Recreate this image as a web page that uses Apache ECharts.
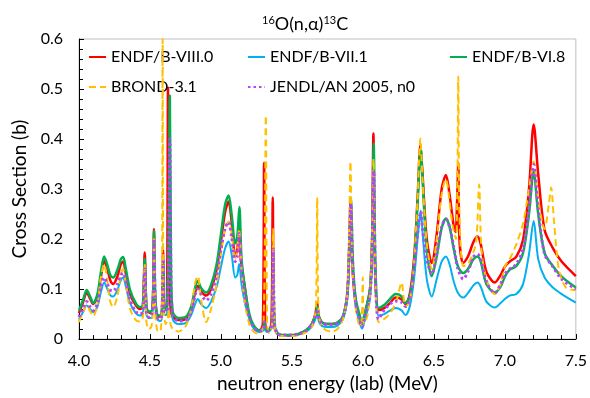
<!DOCTYPE html>
<html>
<head>
<meta charset="utf-8">
<script src="https://cdn.jsdelivr.net/npm/echarts@6/dist/echarts.min.js"></script>
<style>html,body{margin:0;padding:0;background:#fff}#c{width:590px;height:398px}</style>
</head>
<body>
<div id="c"></div>
<script>
// ---- data (energy in MeV, cross section in b) ----
const xTicks = [4.0, 4.5, 5.0, 5.5, 6.0, 6.5, 7.0, 7.5];
const yTicks = [0, 0.1, 0.2, 0.3, 0.4, 0.5, 0.6];

const endf80E = [4.0,4.03,4.054,4.08,4.10,4.13,4.155,4.177,4.20,4.22,4.241,4.27,4.295,4.311,4.33,4.36,4.40,4.43,4.45,4.463,4.475,4.49,4.51,4.522,4.528,4.535,4.55,4.575,4.585,4.592,4.600,4.615,4.622,4.627,4.633,4.645,4.66,4.70,4.75,4.79,4.82,4.837,4.86,4.896,4.93,4.97,5.00,5.03,5.054,5.075,5.10,5.115,5.128,5.14,5.17,5.20,5.23,5.27,5.295,5.304,5.312,5.33,5.355,5.365,5.375,5.40,5.45,5.50,5.55,5.60,5.64,5.665,5.677,5.69,5.72,5.78,5.82,5.86,5.89,5.905,5.913,5.925,5.95,5.98,5.995,6.01,6.05,6.065,6.074,6.085,6.11,6.15,6.19,6.23,6.27,6.30,6.33,6.36,6.385,6.405,6.42,6.45,6.485,6.52,6.555,6.585,6.61,6.64,6.653,6.664,6.672,6.68,6.707,6.74,6.78,6.807,6.83,6.87,6.929,6.97,7.00,7.034,7.081,7.128,7.17,7.203,7.235,7.28,7.338,7.40,7.5];
const endf80Y = [0.052,0.075,0.093,0.080,0.070,0.085,0.125,0.157,0.140,0.118,0.110,0.125,0.150,0.155,0.130,0.090,0.068,0.060,0.066,0.173,0.062,0.054,0.052,0.090,0.220,0.090,0.048,0.045,0.060,0.178,0.060,0.058,0.150,0.503,0.200,0.060,0.045,0.038,0.040,0.060,0.095,0.106,0.095,0.087,0.100,0.140,0.195,0.255,0.275,0.235,0.165,0.180,0.230,0.160,0.100,0.045,0.025,0.016,0.030,0.352,0.030,0.015,0.030,0.283,0.030,0.010,0.007,0.007,0.010,0.016,0.030,0.050,0.073,0.045,0.032,0.030,0.032,0.045,0.090,0.200,0.280,0.150,0.070,0.040,0.030,0.045,0.100,0.200,0.411,0.150,0.058,0.062,0.072,0.083,0.080,0.070,0.090,0.160,0.280,0.388,0.330,0.200,0.152,0.210,0.300,0.328,0.290,0.225,0.214,0.280,0.352,0.200,0.152,0.165,0.195,0.205,0.190,0.135,0.113,0.128,0.145,0.155,0.165,0.198,0.300,0.429,0.330,0.218,0.182,0.155,0.126];

const endf71E = [4.0,4.03,4.054,4.08,4.10,4.13,4.155,4.177,4.20,4.22,4.241,4.27,4.295,4.311,4.33,4.36,4.40,4.43,4.45,4.463,4.475,4.49,4.51,4.522,4.529,4.537,4.55,4.575,4.585,4.594,4.602,4.62,4.632,4.640,4.648,4.66,4.70,4.75,4.79,4.82,4.837,4.86,4.896,4.93,4.97,5.00,5.03,5.054,5.075,5.10,5.115,5.128,5.145,5.17,5.20,5.23,5.27,5.30,5.305,5.312,5.33,5.36,5.368,5.378,5.40,5.45,5.50,5.55,5.60,5.64,5.665,5.680,5.69,5.72,5.78,5.82,5.86,5.89,5.905,5.915,5.93,5.95,5.98,5.995,6.01,6.05,6.065,6.076,6.088,6.11,6.15,6.19,6.23,6.27,6.30,6.33,6.36,6.385,6.407,6.42,6.45,6.485,6.52,6.555,6.585,6.61,6.64,6.67,6.707,6.74,6.78,6.807,6.83,6.87,6.929,6.97,7.00,7.034,7.081,7.128,7.17,7.203,7.235,7.28,7.338,7.40,7.5];
const endf71Y = [0.039,0.055,0.067,0.060,0.054,0.065,0.095,0.113,0.100,0.088,0.085,0.098,0.118,0.123,0.105,0.072,0.052,0.047,0.050,0.110,0.050,0.042,0.042,0.070,0.190,0.070,0.040,0.036,0.048,0.130,0.048,0.050,0.180,0.420,0.130,0.040,0.030,0.032,0.048,0.072,0.080,0.070,0.062,0.075,0.105,0.145,0.182,0.195,0.170,0.123,0.128,0.150,0.110,0.070,0.040,0.022,0.014,0.018,0.030,0.018,0.014,0.025,0.150,0.025,0.010,0.007,0.007,0.010,0.015,0.025,0.040,0.052,0.035,0.025,0.024,0.027,0.040,0.080,0.170,0.250,0.130,0.065,0.030,0.021,0.035,0.080,0.170,0.300,0.120,0.047,0.050,0.057,0.062,0.058,0.048,0.065,0.120,0.200,0.257,0.215,0.120,0.085,0.120,0.155,0.165,0.150,0.115,0.092,0.083,0.092,0.108,0.113,0.105,0.075,0.063,0.072,0.080,0.087,0.090,0.110,0.170,0.236,0.160,0.123,0.103,0.090,0.073];

const endf68E = [4.0,4.03,4.054,4.08,4.10,4.13,4.155,4.177,4.20,4.22,4.241,4.27,4.295,4.311,4.33,4.36,4.40,4.43,4.45,4.463,4.475,4.49,4.51,4.522,4.529,4.537,4.55,4.575,4.585,4.594,4.602,4.62,4.632,4.640,4.648,4.66,4.70,4.75,4.79,4.82,4.837,4.86,4.896,4.93,4.97,5.00,5.03,5.054,5.075,5.10,5.115,5.130,5.145,5.17,5.20,5.23,5.27,5.30,5.305,5.312,5.33,5.36,5.368,5.378,5.40,5.45,5.50,5.55,5.60,5.64,5.665,5.680,5.69,5.72,5.78,5.82,5.86,5.89,5.905,5.915,5.93,5.95,5.98,5.995,6.01,6.05,6.065,6.076,6.088,6.11,6.15,6.19,6.23,6.27,6.30,6.33,6.36,6.385,6.407,6.42,6.45,6.485,6.52,6.555,6.585,6.61,6.64,6.67,6.707,6.74,6.78,6.807,6.83,6.87,6.929,6.97,7.00,7.034,7.081,7.128,7.17,7.203,7.235,7.28,7.338,7.40,7.5];
const endf68Y = [0.057,0.080,0.098,0.084,0.072,0.090,0.135,0.165,0.148,0.128,0.123,0.138,0.160,0.164,0.140,0.098,0.072,0.064,0.068,0.160,0.065,0.055,0.055,0.090,0.217,0.090,0.050,0.047,0.060,0.150,0.060,0.065,0.200,0.487,0.150,0.055,0.042,0.044,0.065,0.105,0.116,0.102,0.093,0.108,0.150,0.210,0.270,0.287,0.250,0.191,0.205,0.264,0.160,0.100,0.050,0.028,0.018,0.022,0.035,0.022,0.018,0.030,0.180,0.030,0.012,0.008,0.008,0.011,0.018,0.030,0.048,0.065,0.045,0.032,0.030,0.033,0.046,0.090,0.190,0.283,0.150,0.080,0.045,0.032,0.048,0.100,0.200,0.391,0.150,0.062,0.068,0.080,0.090,0.086,0.072,0.085,0.150,0.270,0.382,0.320,0.180,0.126,0.165,0.222,0.241,0.225,0.180,0.145,0.132,0.140,0.160,0.165,0.155,0.110,0.093,0.105,0.125,0.139,0.146,0.172,0.250,0.336,0.250,0.172,0.146,0.125,0.103];

const brondE = [4.0,4.03,4.054,4.08,4.10,4.13,4.155,4.177,4.20,4.22,4.241,4.27,4.295,4.311,4.33,4.36,4.40,4.43,4.45,4.462,4.475,4.49,4.51,4.522,4.529,4.537,4.55,4.572,4.584,4.589,4.595,4.61,4.625,4.632,4.645,4.66,4.70,4.75,4.79,4.82,4.837,4.86,4.896,4.93,4.97,5.00,5.03,5.054,5.075,5.10,5.115,5.128,5.145,5.17,5.20,5.23,5.27,5.30,5.316,5.325,5.34,5.36,5.368,5.378,5.40,5.45,5.50,5.55,5.60,5.64,5.668,5.678,5.688,5.72,5.78,5.82,5.86,5.89,5.905,5.912,5.925,5.95,5.98,5.992,5.999,6.007,6.03,6.05,6.065,6.075,6.088,6.11,6.15,6.20,6.24,6.272,6.30,6.33,6.36,6.385,6.405,6.42,6.45,6.485,6.52,6.555,6.585,6.60,6.63,6.655,6.665,6.672,6.68,6.707,6.74,6.78,6.800,6.819,6.835,6.87,6.929,6.97,7.00,7.034,7.081,7.128,7.17,7.203,7.235,7.28,7.31,7.326,7.345,7.38,7.431,7.5];
const brondY = [0.034,0.055,0.068,0.055,0.046,0.070,0.125,0.150,0.115,0.075,0.064,0.085,0.130,0.140,0.110,0.060,0.038,0.035,0.045,0.150,0.035,0.020,0.025,0.070,0.200,0.060,0.018,0.015,0.080,0.600,0.080,0.030,0.040,0.060,0.030,0.020,0.015,0.025,0.060,0.115,0.126,0.080,0.034,0.060,0.110,0.170,0.220,0.235,0.210,0.160,0.180,0.220,0.140,0.070,0.030,0.015,0.010,0.030,0.447,0.030,0.012,0.030,0.220,0.025,0.008,0.006,0.006,0.008,0.014,0.025,0.060,0.283,0.050,0.022,0.015,0.020,0.040,0.090,0.250,0.355,0.150,0.060,0.025,0.040,0.123,0.030,0.045,0.090,0.200,0.360,0.120,0.034,0.040,0.055,0.080,0.113,0.065,0.075,0.150,0.280,0.401,0.320,0.190,0.140,0.200,0.290,0.320,0.300,0.230,0.200,0.300,0.525,0.250,0.146,0.150,0.175,0.200,0.309,0.180,0.120,0.090,0.110,0.145,0.160,0.190,0.231,0.300,0.355,0.280,0.220,0.270,0.303,0.240,0.140,0.103,0.098];

const jendlE = [4.0,4.03,4.054,4.08,4.10,4.13,4.155,4.177,4.20,4.22,4.241,4.27,4.295,4.311,4.33,4.36,4.40,4.43,4.45,4.463,4.475,4.49,4.51,4.522,4.529,4.537,4.55,4.575,4.585,4.594,4.602,4.62,4.632,4.640,4.648,4.66,4.70,4.75,4.79,4.82,4.837,4.86,4.896,4.93,4.97,5.00,5.03,5.054,5.075,5.10,5.115,5.130,5.145,5.17,5.20,5.23,5.27,5.30,5.305,5.312,5.33,5.36,5.368,5.378,5.40,5.45,5.50,5.55,5.60,5.64,5.665,5.680,5.69,5.72,5.78,5.82,5.86,5.89,5.905,5.915,5.93,5.95,5.98,5.995,6.01,6.05,6.065,6.076,6.088,6.11,6.15,6.19,6.23,6.27,6.30,6.33,6.36,6.385,6.407,6.42,6.45,6.485,6.52,6.555,6.585,6.61,6.64,6.67,6.707,6.74,6.78,6.807,6.83,6.87,6.929,6.97,7.00,7.034,7.081,7.128,7.17,7.203,7.235,7.28,7.338,7.40,7.5];
const jendlY = [0.044,0.062,0.075,0.064,0.057,0.072,0.105,0.123,0.110,0.098,0.096,0.110,0.128,0.132,0.115,0.078,0.055,0.050,0.055,0.140,0.052,0.044,0.046,0.080,0.200,0.080,0.044,0.040,0.055,0.160,0.055,0.055,0.180,0.400,0.140,0.050,0.036,0.038,0.055,0.090,0.100,0.090,0.077,0.090,0.128,0.180,0.222,0.234,0.205,0.155,0.165,0.211,0.140,0.085,0.045,0.024,0.016,0.020,0.035,0.020,0.016,0.030,0.180,0.030,0.011,0.008,0.008,0.011,0.017,0.030,0.045,0.060,0.042,0.030,0.029,0.032,0.045,0.090,0.190,0.270,0.140,0.070,0.035,0.025,0.040,0.090,0.190,0.336,0.130,0.040,0.058,0.070,0.076,0.074,0.065,0.080,0.140,0.210,0.255,0.220,0.160,0.130,0.170,0.225,0.240,0.225,0.185,0.140,0.120,0.135,0.165,0.170,0.160,0.115,0.092,0.110,0.130,0.140,0.150,0.180,0.260,0.349,0.260,0.170,0.145,0.120,0.100];

const seriesNames = ['ENDF/B-VIII.0', 'ENDF/B-VII.1', 'ENDF/B-VI.8', 'BROND-3.1', 'JENDL/AN 2005, n0'];

function zip(xs, ys) { return xs.map((x, i) => [x, ys[i]]); }

const FONT = 'Lato';
const chart = echarts.init(document.getElementById('c'), null, { renderer: 'canvas' });

function lineSeries(name, xs, ys, color, width, type, z) {
  return {
    name: name, type: 'line', data: zip(xs, ys), showSymbol: false, symbol: 'none',
    smooth: 0.3, z: z,
    lineStyle: { color: color, width: width, type: type, cap: 'butt' },
    itemStyle: { color: color }, emphasis: { disabled: true }
  };
}

function legendItem(name, left, top) {
  return {
    data: [name], left: left, top: top, padding: 0, itemWidth: 17, itemHeight: 12,
    itemGap: 0, selectedMode: false,
    itemStyle: { color: 'rgba(0,0,0,0)', borderWidth: 0, opacity: 0 },
    textStyle: { fontFamily: FONT, fontSize: 16, color: '#000' }
  };
}

chart.setOption({
  animation: false,
  backgroundColor: '#fff',
  title: {
    text: '{sup|16}O(n,α){sup|13}C', left: 257, top: 10,
    textStyle: {
      fontFamily: FONT, fontSize: 18, fontWeight: 'normal', color: '#000',
      rich: { sup: { fontFamily: FONT, fontSize: 11, verticalAlign: 'bottom', padding: [0, 0, 8, 0], color: '#000' } }
    }
  },
  legend: [
    legendItem(seriesNames[0], 88, 49),
    legendItem(seriesNames[1], 247, 49),
    legendItem(seriesNames[2], 449, 49),
    legendItem(seriesNames[3], 88, 79),
    legendItem(seriesNames[4], 247, 79)
  ],
  grid: { left: 79, right: 12, top: 39, bottom: 54, show: true, borderColor: '#BFBFBF', borderWidth: 1, containLabel: false },
  xAxis: {
    type: 'value', min: xTicks[0], max: xTicks[xTicks.length - 1], interval: 0.5,
    name: 'neutron energy (lab) (MeV)', nameLocation: 'middle', nameGap: 30,
    nameTextStyle: { fontFamily: FONT, fontSize: 19, color: '#000' },
    axisLine: { lineStyle: { color: '#000', width: 1 } },
    axisTick: { inside: true, length: 5, lineStyle: { color: '#000' } },
    minorTick: { show: true, splitNumber: 5, length: 4, lineStyle: { color: '#000' } },
    splitLine: { show: false },
    axisLabel: { fontFamily: FONT, fontSize: 16, color: '#000', margin: 14, formatter: v => v.toFixed(1) }
  },
  yAxis: {
    type: 'value', min: yTicks[0], max: yTicks[yTicks.length - 1], interval: 0.1,
    name: 'Cross Section (b)', nameLocation: 'middle', nameGap: 50,
    nameTextStyle: { fontFamily: FONT, fontSize: 19, color: '#000' },
    axisLine: { show: true, lineStyle: { color: '#000', width: 1 } },
    axisTick: { show: true, inside: true, length: 5, lineStyle: { color: '#000' } },
    minorTick: { show: true, splitNumber: 5, length: 4, lineStyle: { color: '#000' } },
    splitLine: { show: false },
    axisLabel: { fontFamily: FONT, fontSize: 16, color: '#000', margin: 16, formatter: v => (v === 0 ? '0' : v.toFixed(1)) }
  },
  series: [
    lineSeries(seriesNames[0], endf80E, endf80Y, '#FF0000', 2.5, 'solid', 2),
    lineSeries(seriesNames[1], endf71E, endf71Y, '#00B0F0', 2, 'solid', 3),
    lineSeries(seriesNames[2], endf68E, endf68Y, '#00B050', 2.5, 'solid', 4),
    lineSeries(seriesNames[3], brondE, brondY, '#FFC000', 2, [7, 4], 5),
    lineSeries(seriesNames[4], jendlE, jendlY, '#B845F5', 3, [2.5, 3], 6)
  ]
});
</script>
</body>
</html>
